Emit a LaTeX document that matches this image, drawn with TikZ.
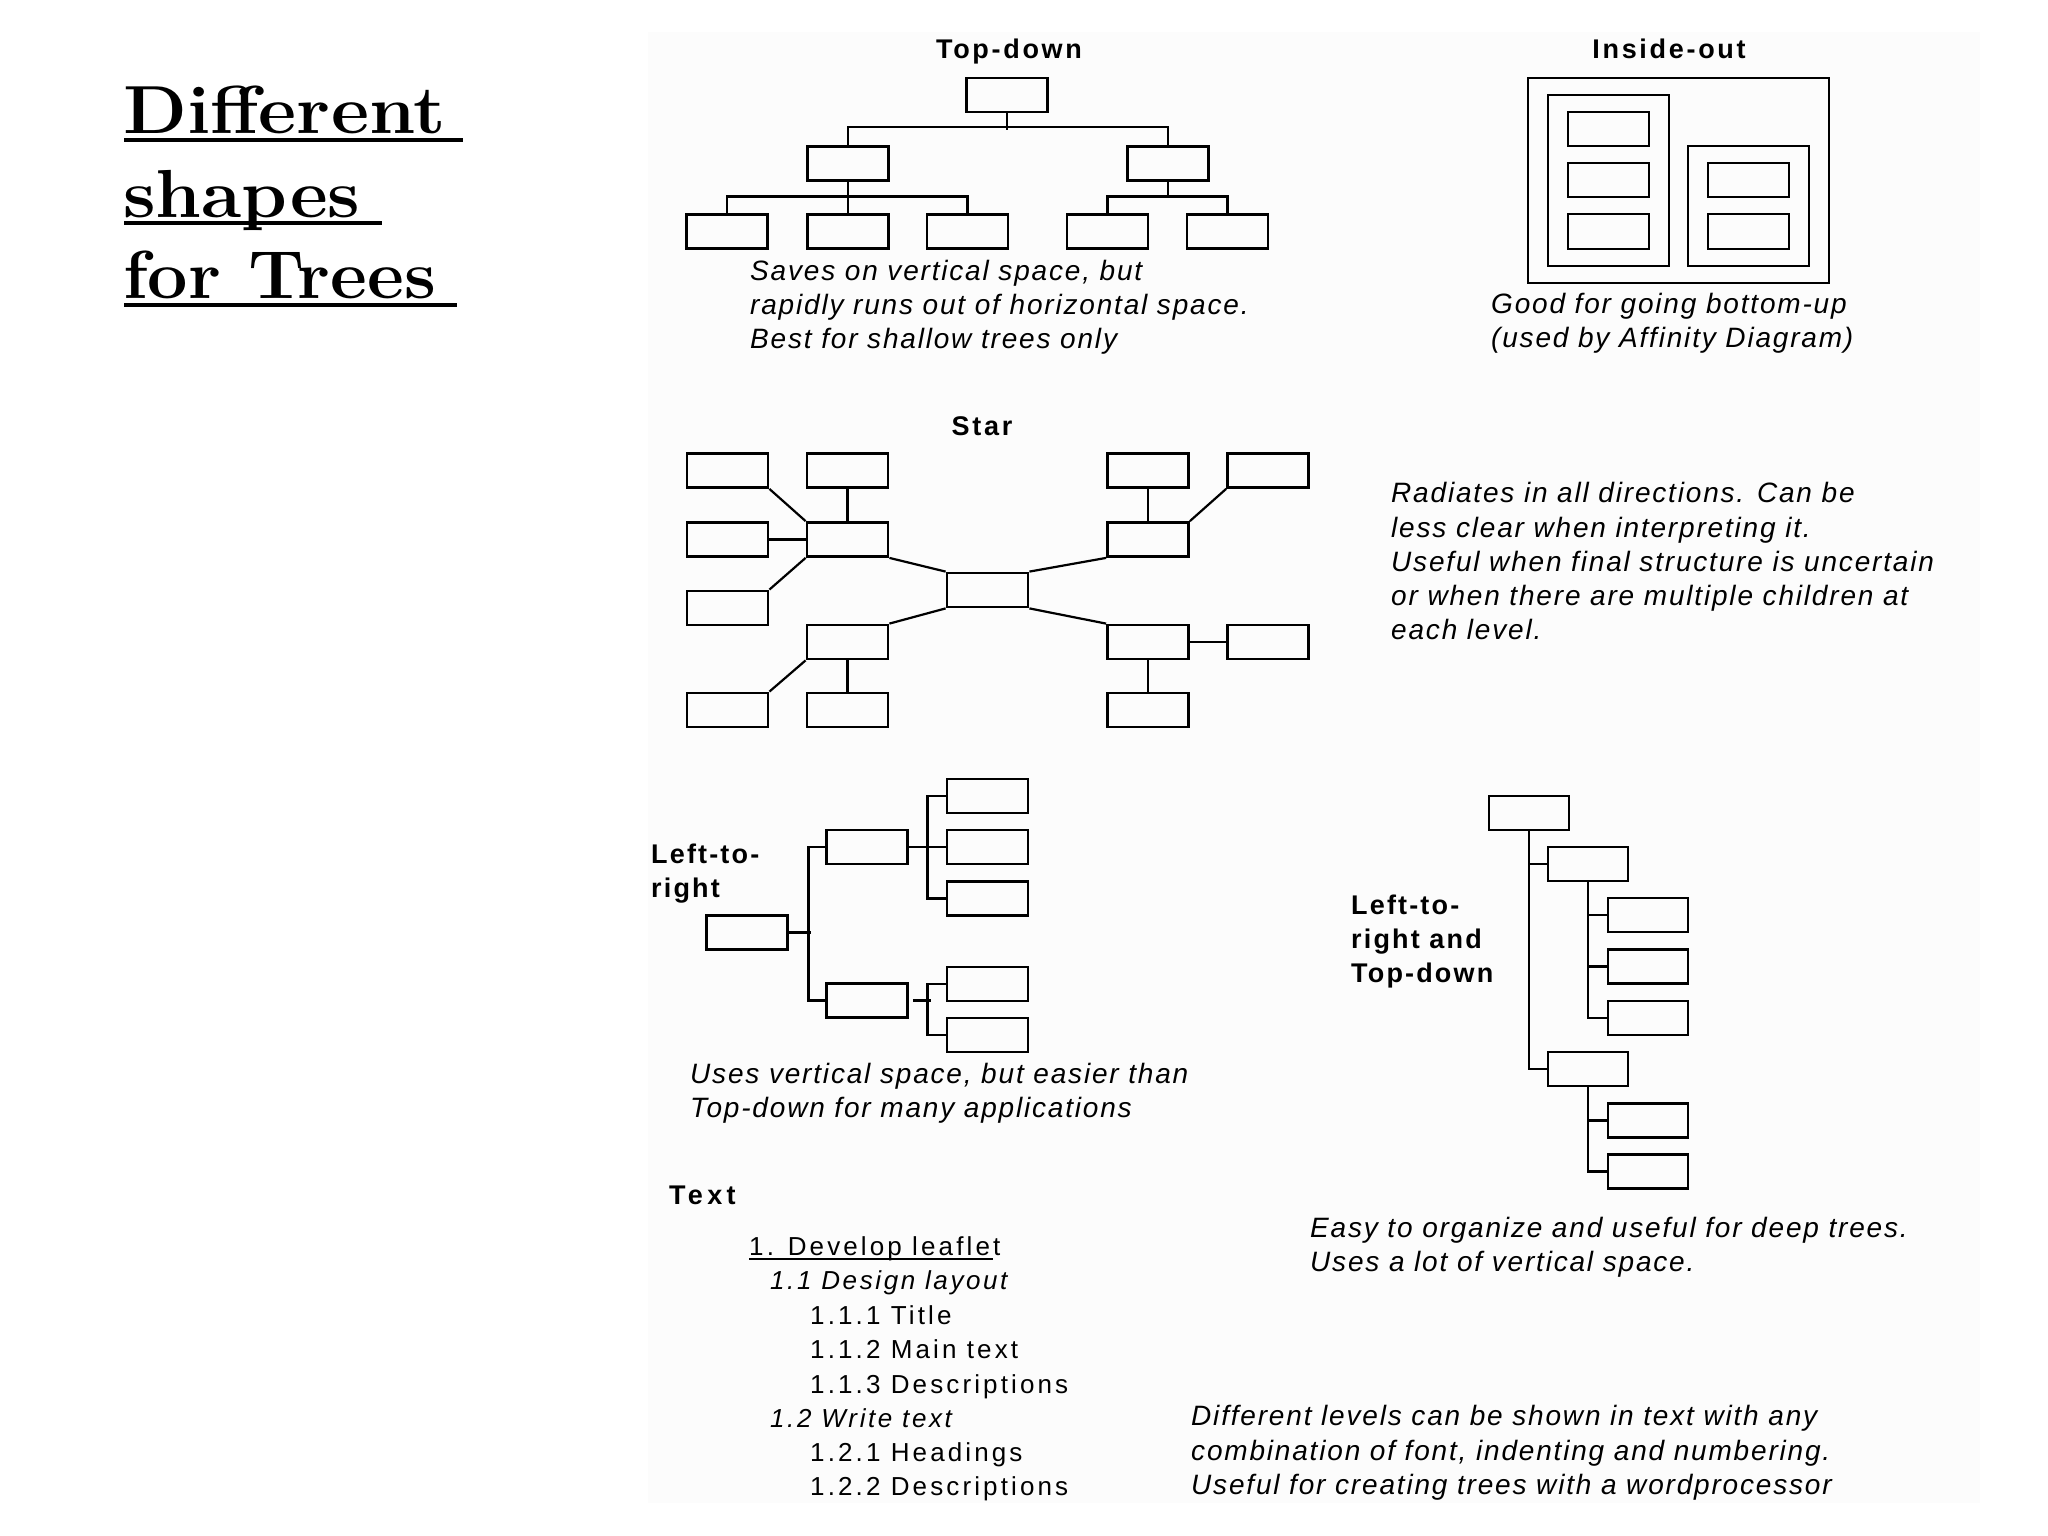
\documentclass[tikz,border=0pt]{standalone}
\usepackage{fontspec}
\newfontfamily\descf{Liberation Sans}[LetterSpace=6.5]
\newfontfamily\itemf{Liberation Sans}[LetterSpace=12]
\newfontfamily\itemif{Liberation Sans}[LetterSpace=10]
\newfontfamily\headf{Liberation Sans}[LetterSpace=10]
\newfontfamily\headtf{Liberation Sans}[LetterSpace=16]
\newfontfamily\lheadf{Liberation Sans}[LetterSpace=8]
\begin{document}
\begin{tikzpicture}[x=1pt,y=-1pt,
  bx/.style={draw, line width=2.8pt, inner sep=0pt},
  tdb/.style={bx, minimum width=81pt, minimum height=34pt},
  stb/.style={bx, minimum width=81pt, minimum height=34pt},
  lrb/.style={bx, minimum width=81pt, minimum height=34pt},
  ltb/.style={bx, minimum width=80pt, minimum height=34pt},
  ln/.style={line width=2.8pt},
  dg/.style={line width=2.2pt},
  head/.style={font=\headf\bfseries\fontsize{27}{34}\selectfont, inner sep=0pt, anchor=base},
  lhead/.style={font=\lheadf\bfseries\fontsize{27}{34}\selectfont, inner sep=0pt, anchor=base west},
  desc/.style={font=\descf\itshape\fontsize{28}{34}\selectfont, inner sep=0pt, anchor=base west},
  item/.style={font=\itemf\fontsize{26}{34}\selectfont, inner sep=0pt, anchor=base west},
  itemi/.style={font=\itemif\itshape\fontsize{26}{34}\selectfont, inner sep=0pt, anchor=base west},
  ttl/.style={font=\bfseries\fontsize{68}{80}\selectfont, inner sep=0pt, anchor=base west},
  ul/.style={line width=3.5pt}]
\useasboundingbox (0,0) rectangle (2048,1536);
\fill[white] (0,0) rectangle (2048,1536);
\fill[fill={rgb,255:red,252;green,252;blue,252}] (648,32) rectangle (1980,1503);

% Title
\node[ttl] (t1) at (123,134) {\scalebox{1.09}[1]{Different}};
\node[ttl] (t2) at (123,217) {\scalebox{1.08}[1]{shapes}};
\node[ttl] (t3) at (123,298) {\scalebox{1.055}[1]{for Trees}};
\draw[ul] (124,140) -- (463,140);
\draw[ul] (124,223) -- (382,223);
\draw[ul] (124,305) -- (457,305);

% Top-down
\node[head] (hTD) at (1009,59) {Top-down};
\node[tdb] (td0) at (1007,95) {};
\node[tdb] (tdL) at (848,163.5) {};
\node[tdb] (tdR) at (1168,163.5) {};
\node[tdb] (tdLa) at (727,231.5) {};
\node[tdb] (tdLb) at (848,231.5) {};
\node[tdb] (tdLc) at (967.5,231.5) {};
\node[tdb] (tdRa) at (1107.5,231.5) {};
\node[tdb] (tdRb) at (1227.5,231.5) {};
\draw[ln] (td0.south) -- ++(0,16.5);
\draw[ln] (tdL.north) -- ++(0,-18) -| (tdR.north);
\draw[ln] (tdLb.north) -- (tdL.south);
\draw[ln] (tdLa.north) -- ++(0,-17) -| (tdLc.north);
\draw[ln] (tdR.south) -- ++(0,16);
\draw[ln] (tdRa.north) -- ++(0,-17) -| (tdRb.north);
\node[desc] (dTD1) at (750,280) {Saves on vertical space, but};
\node[desc] (dTD2) at (750,314) {rapidly runs out of horizontal space.};
\node[desc] (dTD3) at (750,348) {Best for shallow trees only};

% Inside-out
\node[head] (hIO) at (1669,59) {Inside-out};
\draw[ln] (1528,78) rectangle (1829,283);
\draw[ln] (1548,95) rectangle (1669,266);
\draw[ln] (1688,146) rectangle (1809,266);
\draw[ln] (1568,112) rectangle (1649,146);
\draw[ln] (1568,163) rectangle (1649,197);
\draw[ln] (1568,214) rectangle (1649,249);
\draw[ln] (1708,163) rectangle (1789,197);
\draw[ln] (1708,214) rectangle (1789,249);
\node[desc] (dIO1) at (1491,313) {Good for going bottom-up};
\node[desc] (dIO2) at (1491,347) {(used by Affinity Diagram)};

% Star
\node[head] (hST) at (982,435) {Star};
\node[stb] (L1) at (727.5,470.5) {};
\node[stb] (L2) at (847.5,470.5) {};
\node[stb] (LA) at (847.5,539.5) {};
\node[stb] (L3) at (727.5,539.5) {};
\node[stb] (L4) at (727.5,608) {};
\node[stb] (C) at (987.5,590) {};
\node[stb] (LB) at (847.5,642) {};
\node[stb] (L5) at (727.5,710) {};
\node[stb] (L6) at (847.5,710) {};
\node[stb] (R1) at (1148,470.5) {};
\node[stb] (R2) at (1268,470.5) {};
\node[stb] (RA) at (1148,539.5) {};
\node[stb] (RB) at (1148,642) {};
\node[stb] (R3) at (1268,642) {};
\node[stb] (R4) at (1148,710) {};
\draw[dg] (L1.south east) -- (LA.north west);
\draw[ln] (L2.south) -- (LA.north);
\draw[dg] (L3.east) -- (LA.west);
\draw[dg] (L4.north east) -- (LA.south west);
\draw[dg] (LA.south east) -- (C.north west);
\draw[dg] (LB.north east) -- (C.south west);
\draw[dg] (L5.north east) -- (LB.south west);
\draw[ln] (L6.north) -- (LB.south);
\draw[ln] (R1.south) -- (RA.north);
\draw[dg] (R2.south west) -- (RA.north east);
\draw[dg] (C.north east) -- (RA.south west);
\draw[dg] (C.south east) -- (RB.north west);
\draw[ln] (RB.east) -- (R3.west);
\draw[ln] (RB.south) -- (R4.north);
\node[desc] (dST1) at (1391,502) {Radiates in all directions. Can be};
\node[desc] (dST2) at (1391,537) {less clear when interpreting it.};
\node[desc] (dST3) at (1391,571) {Useful when final structure is uncertain};
\node[desc] (dST4) at (1391,605) {or when there are multiple children at};
\node[desc] (dST5) at (1391,639) {each level.};

% Left-to-right
\node[lhead] (hLR1) at (651,863) {Left-to-};
\node[lhead] (hLR2) at (651,897) {right};
\node[lrb] (lr0) at (747,932.5) {};
\node[lrb] (lrA) at (867,847) {};
\node[lrb] (lrB) at (867,1000.5) {};
\node[lrb] (lra1) at (987.5,796) {};
\node[lrb] (lra2) at (987.5,847) {};
\node[lrb] (lra3) at (987.5,898.5) {};
\node[lrb] (lrb1) at (987.5,984) {};
\node[lrb] (lrb2) at (987.5,1035) {};
\draw[ln] (lr0.east) -- ++(22,0);
\draw[ln] (lrA.west) -- ++(-17,0) |- (lrB.west);
\draw[ln] (lrA.east) -- (lra2.west);
\draw[ln] (lra1.west) -- ++(-18,0) |- (lra3.west);
\draw[ln] ([xshift=4pt]lrB.east) -- ++(18,0);
\draw[ln] (lrb1.west) -- ++(-18,0) |- (lrb2.west);
\node[desc] (dLR1) at (690,1083) {Uses vertical space, but easier than};
\node[desc] (dLR2) at (690,1117) {Top-down for many applications};

% Left-to-right and Top-down
\node[lhead] (hLT1) at (1351,914) {Left-to-};
\node[lhead] (hLT2) at (1351,948) {right and};
\node[lhead] (hLT3) at (1351,982) {Top-down};
\node[ltb] (lt0) at (1529,813) {};
\node[ltb] (ltA) at (1588,864) {};
\node[ltb] (ltB) at (1588,1069) {};
\node[ltb] (lta1) at (1648,915) {};
\node[ltb] (lta2) at (1648,966.5) {};
\node[ltb] (lta3) at (1648,1018) {};
\node[ltb] (ltb1) at (1648,1120.5) {};
\node[ltb] (ltb2) at (1648,1171.5) {};
\draw[ln] (lt0.south) |- (ltB.west);
\draw[ln] (ltA.west) -- (ltA.west -| lt0.south);
\draw[ln] (ltA.south) |- (lta3.west);
\draw[ln] (lta1.west) -- (lta1.west -| ltA.south);
\draw[ln] (lta2.west) -- (lta2.west -| ltA.south);
\draw[ln] (ltB.south) |- (ltb2.west);
\draw[ln] (ltb1.west) -- (ltb1.west -| ltB.south);
\node[desc] (dLT1) at (1310,1237) {Easy to organize and useful for deep trees.};
\node[desc] (dLT2) at (1310,1271) {Uses a lot of vertical space.};

% Text
\node[lhead, font=\headtf\bfseries\fontsize{27}{34}\selectfont] (hTX) at (669,1204) {Text};
\node[item] (i1) at (749,1255) {1. Develop leaflet};
\draw[line width=1.6pt] (749,1259) -- (993,1259);
\node[itemi] (i11) at (770,1289) {1.1 Design layout};
\node[item] (i111) at (810,1324) {1.1.1 Title};
\node[item] (i112) at (810,1358) {1.1.2 Main text};
\node[item] (i113) at (810,1393) {1.1.3 Descriptions};
\node[itemi] (i12) at (770,1427) {1.2 Write text};
\node[item] (i121) at (810,1461) {1.2.1 Headings};
\node[item] (i122) at (810,1495) {1.2.2 Descriptions};
\node[desc] (dTX1) at (1191,1425) {Different levels can be shown in text with any};
\node[desc] (dTX2) at (1191,1460) {combination of font, indenting and numbering.};
\node[desc] (dTX3) at (1191,1494) {Useful for creating trees with a wordprocessor};
\end{tikzpicture}
\end{document}
